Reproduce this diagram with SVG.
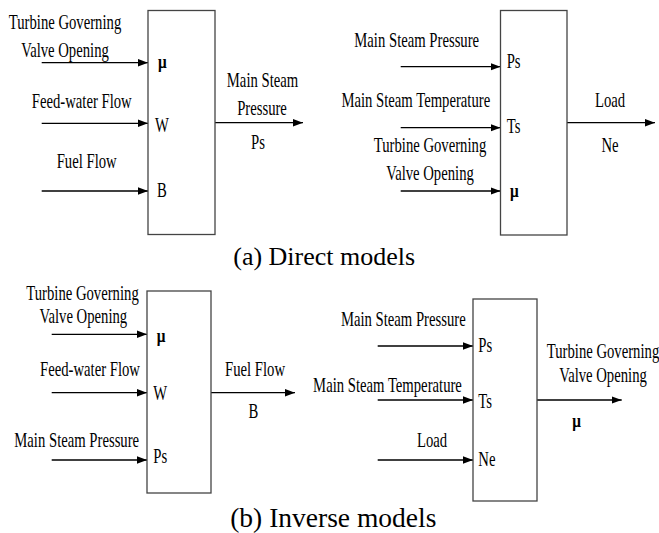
<svg xmlns="http://www.w3.org/2000/svg" width="659" height="533" viewBox="0 0 659 533">
  <defs>
    <marker id="arrow" markerUnits="userSpaceOnUse" markerWidth="10" markerHeight="8" refX="10" refY="4" orient="auto">
      <path d="M0,0.3 L10,4 L0,7.7 z" fill="#000"/>
    </marker>
  </defs>
  <style>
    rect.block { fill: #fff; stroke: #444; stroke-width: 1.3; }
    .wire { stroke: #000; stroke-width: 1.3; fill: none; marker-end: url(#arrow); }
    text { font-family: "Liberation Serif", "Times New Roman", serif; fill: #000; }
    .lbl { font-size: 21px; text-anchor: middle; }
    .port { font-size: 21px; text-anchor: start; }
    .mu { font-size: 18px; font-weight: bold; }
    .cap { font-size: 26px; text-anchor: middle; }
  </style>
  <rect width="659" height="533" fill="#fff"/>

  <!-- connectors -->
  <g id="connectors">
    <!-- direct model 1 -->
    <line class="wire" x1="41.7" y1="62.7" x2="148" y2="62.7"/>
    <line class="wire" x1="41.7" y1="123.3" x2="148" y2="123.3"/>
    <line class="wire" x1="41.7" y1="191" x2="148" y2="191"/>
    <line class="wire" x1="215" y1="122.7" x2="303" y2="122.7"/>
    <!-- direct model 2 -->
    <line class="wire" x1="400.7" y1="66.7" x2="500.5" y2="66.7"/>
    <line class="wire" x1="400.7" y1="127.7" x2="500.5" y2="127.7"/>
    <line class="wire" x1="400.7" y1="191" x2="500.5" y2="191"/>
    <line class="wire" x1="567" y1="122.7" x2="655" y2="122.7"/>
    <!-- inverse model 1 -->
    <line class="wire" x1="51.7" y1="334.3" x2="147" y2="334.3"/>
    <line class="wire" x1="51.7" y1="392.7" x2="147" y2="392.7"/>
    <line class="wire" x1="51.7" y1="460" x2="147" y2="460"/>
    <line class="wire" x1="211" y1="392.7" x2="295" y2="392.7"/>
    <!-- inverse model 2 -->
    <line class="wire" x1="377.7" y1="346" x2="473" y2="346"/>
    <line class="wire" x1="377.7" y1="400" x2="473" y2="400"/>
    <line class="wire" x1="377.7" y1="460" x2="473" y2="460"/>
    <line class="wire" x1="537" y1="400" x2="621.7" y2="400"/>
  </g>

  <!-- direct model: boiler pressure -->
  <g id="direct-pressure">
    <rect class="block" x="148" y="10.5" width="67" height="224"/>
    <text class="lbl" transform="translate(65,29) scale(0.7,1)">Turbine Governing</text>
    <text class="lbl" transform="translate(65,56.7) scale(0.7,1)">Valve Opening</text>
    <text class="lbl" transform="translate(81.7,108) scale(0.7,1)">Feed-water Flow</text>
    <text class="lbl" transform="translate(86.7,168) scale(0.7,1)">Fuel Flow</text>
    <text class="port mu" transform="translate(158,67.5) scale(0.85,1)">μ</text>
    <text class="port" transform="translate(155,131.7) scale(0.7,1)">W</text>
    <text class="port" transform="translate(157,196.7) scale(0.7,1)">B</text>
    <text class="lbl" transform="translate(262.5,87) scale(0.7,1)">Main Steam</text>
    <text class="lbl" transform="translate(262,115) scale(0.7,1)">Pressure</text>
    <text class="lbl" transform="translate(258,149) scale(0.7,1)">Ps</text>
  </g>

  <!-- direct model: unit load -->
  <g id="direct-load">
    <rect class="block" x="500.5" y="10.5" width="66.5" height="224.5"/>
    <text class="lbl" transform="translate(416.7,46.7) scale(0.7,1)">Main Steam Pressure</text>
    <text class="lbl" transform="translate(415.8,107.3) scale(0.7,1)">Main Steam Temperature</text>
    <text class="lbl" transform="translate(430,151.7) scale(0.7,1)">Turbine Governing</text>
    <text class="lbl" transform="translate(430,180) scale(0.7,1)">Valve Opening</text>
    <text class="port" transform="translate(506.7,68) scale(0.7,1)">Ps</text>
    <text class="port" transform="translate(506.7,133) scale(0.7,1)">Ts</text>
    <text class="port mu" transform="translate(510,197) scale(0.85,1)">μ</text>
    <text class="lbl" transform="translate(610,107.3) scale(0.7,1)">Load</text>
    <text class="lbl" transform="translate(610,151.7) scale(0.7,1)">Ne</text>
  </g>

  <text class="cap" x="324.2" y="265">(a) Direct models</text>

  <!-- inverse model: fuel flow -->
  <g id="inverse-fuel">
    <rect class="block" x="147" y="291" width="64" height="202"/>
    <text class="lbl" transform="translate(82.5,300) scale(0.7,1)">Turbine Governing</text>
    <text class="lbl" transform="translate(83.3,323.3) scale(0.7,1)">Valve Opening</text>
    <text class="lbl" transform="translate(90,376) scale(0.7,1)">Feed-water Flow</text>
    <text class="lbl" transform="translate(76.7,446.7) scale(0.7,1)">Main Steam Pressure</text>
    <text class="port mu" transform="translate(156.7,341.7) scale(0.85,1)">μ</text>
    <text class="port" transform="translate(153.3,400) scale(0.7,1)">W</text>
    <text class="port" transform="translate(153.3,463.3) scale(0.7,1)">Ps</text>
    <text class="lbl" transform="translate(255,376) scale(0.7,1)">Fuel Flow</text>
    <text class="lbl" transform="translate(253.3,418.3) scale(0.7,1)">B</text>
  </g>

  <!-- inverse model: valve opening -->
  <g id="inverse-valve">
    <rect class="block" x="473" y="299" width="64" height="202"/>
    <text class="lbl" transform="translate(403.3,326) scale(0.7,1)">Main Steam Pressure</text>
    <text class="lbl" transform="translate(387.5,391.7) scale(0.7,1)">Main Steam Temperature</text>
    <text class="lbl" transform="translate(432,446.7) scale(0.7,1)">Load</text>
    <text class="port" transform="translate(478.3,351.7) scale(0.7,1)">Ps</text>
    <text class="port" transform="translate(478.3,408.3) scale(0.7,1)">Ts</text>
    <text class="port" transform="translate(478.3,466) scale(0.7,1)">Ne</text>
    <text class="lbl" transform="translate(603,358.3) scale(0.7,1)">Turbine Governing</text>
    <text class="lbl" transform="translate(603,381.7) scale(0.7,1)">Valve Opening</text>
    <text class="lbl mu" transform="translate(576.7,426.7) scale(0.85,1)">μ</text>
  </g>

  <text class="cap" x="333.3" y="526.7" style="font-size:27.5px">(b) Inverse models</text>
</svg>
